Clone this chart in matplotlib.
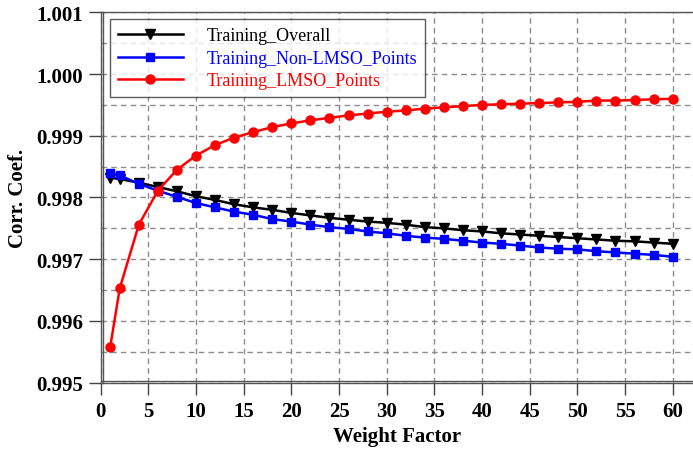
import matplotlib
matplotlib.use("Agg")
import matplotlib.pyplot as plt
from matplotlib.lines import Line2D
from matplotlib.ticker import MultipleLocator, FormatStrFormatter
import matplotlib.transforms as mtransforms

weight_factor = [1, 2, 4, 6, 8, 10, 12, 14, 16, 18, 20, 22, 24, 26, 28, 30,
                 32, 34, 36, 38, 40, 42, 44, 46, 48, 50, 52, 54, 56, 58, 60]

training_overall = [0.99832, 0.99830, 0.99824, 0.99817, 0.99810, 0.99802, 0.99796,
                    0.99789, 0.99784, 0.99780, 0.99775, 0.99771, 0.99767, 0.99764,
                    0.99761, 0.99759, 0.99756, 0.99752, 0.99750, 0.99747, 0.99745,
                    0.99742, 0.99740, 0.99738, 0.99736, 0.99734, 0.99732, 0.99730,
                    0.99729, 0.99727, 0.99725]

training_non_lmso = [0.99840, 0.99836, 0.99822, 0.99811, 0.99801, 0.99791, 0.99784,
                     0.99777, 0.99772, 0.99765, 0.99761, 0.99756, 0.99752, 0.99749,
                     0.99745, 0.99742, 0.99738, 0.99735, 0.99733, 0.99730, 0.99727,
                     0.99725, 0.99722, 0.99719, 0.99717, 0.99716, 0.99713, 0.99711,
                     0.99709, 0.99707, 0.99704]

training_lmso = [0.99558, 0.99653, 0.99756, 0.99811, 0.99845, 0.99868, 0.99885,
                 0.99897, 0.99906, 0.99914, 0.99920, 0.99925, 0.99929, 0.99933,
                 0.99936, 0.99939, 0.99941, 0.99944, 0.99946, 0.99948, 0.99950,
                 0.99951, 0.99952, 0.99953, 0.99954, 0.99955, 0.99957, 0.99957,
                 0.99958, 0.99959, 0.99960]

series_labels = ["Training_Overall", "Training_Non-LMSO_Points", "Training_LMSO_Points"]
x_label = "Weight Factor"
y_label = "Corr. Coef."

plt.rcParams["font.family"] = ["Liberation Serif", "DejaVu Serif"]

fig = plt.figure(figsize=(6.93, 4.52), dpi=100)
ax = fig.add_axes([0.1453, 0.1511, 0.8547, 0.8195])

ax.plot(weight_factor, training_overall, color="black", lw=1.8, marker="v",
        ms=6.5, label=series_labels[0], zorder=3)
ax.plot(weight_factor, training_non_lmso, color="#0000ff", lw=1.8, marker="s",
        ms=5.5, label=series_labels[1], zorder=4)
ax.plot(weight_factor, training_lmso, color="#ff0000", lw=1.8, marker="o",
        ms=6.5, label=series_labels[2], zorder=5)

ax.set_xlim(0, 62.13)
ax.set_ylim(0.995, 1.001)
ax.xaxis.set_major_locator(MultipleLocator(5))
ax.yaxis.set_major_locator(MultipleLocator(0.001))
ax.yaxis.set_minor_locator(MultipleLocator(0.0005))
ax.yaxis.set_major_formatter(FormatStrFormatter("%.3f"))

ax.grid(True, which="major", axis="x", color="#8c8c8c", ls=(0, (4, 3)), lw=1)
ax.grid(True, which="both", axis="y", color="#8c8c8c", ls=(0, (4, 3)), lw=1)
ax.tick_params(axis="y", which="minor", length=0)
ax.tick_params(which="major", direction="out", length=8.5, width=1, color="#444444",
               labelsize=15)
ax.tick_params(axis="x", pad=5)
ax.tick_params(axis="y", pad=4)
for lbl in ax.get_xticklabels() + ax.get_yticklabels():
    lbl.set_fontweight("bold")

ax.set_xlabel(x_label, fontsize=15, fontweight="bold", labelpad=3)
ax.set_ylabel(y_label, fontsize=15, fontweight="bold", labelpad=6)

ax.spines["right"].set_visible(False)
for side in ("left", "bottom", "top"):
    ax.spines[side].set_color("#555555")
    ax.spines[side].set_linewidth(1)

# inner second rule along the left and bottom axes
inner_left = mtransforms.offset_copy(ax.transAxes, fig=fig, x=2, y=0, units="dots")
inner_bottom = mtransforms.offset_copy(ax.transAxes, fig=fig, x=0, y=2, units="dots")
ax.add_line(Line2D([0, 0], [0, 1], transform=inner_left, color="#555555", lw=1,
                   clip_on=False, zorder=6))
ax.add_line(Line2D([0, 1], [0, 0], transform=inner_bottom, color="#555555", lw=1,
                   clip_on=False, zorder=6))

leg = ax.legend(loc="upper left", bbox_to_anchor=(0.0155, 0.981), fontsize=13,
                frameon=True, fancybox=False, shadow=False, handlelength=3.6,
                handletextpad=1.3, borderpad=0.45, labelspacing=0.3,
                borderaxespad=0)
leg.get_frame().set_edgecolor("#333333")
leg.get_frame().set_linewidth(1)
for text, line in zip(leg.get_texts(), leg.get_lines()):
    text.set_color(line.get_color())

fig.savefig("out.png", dpi=100)
